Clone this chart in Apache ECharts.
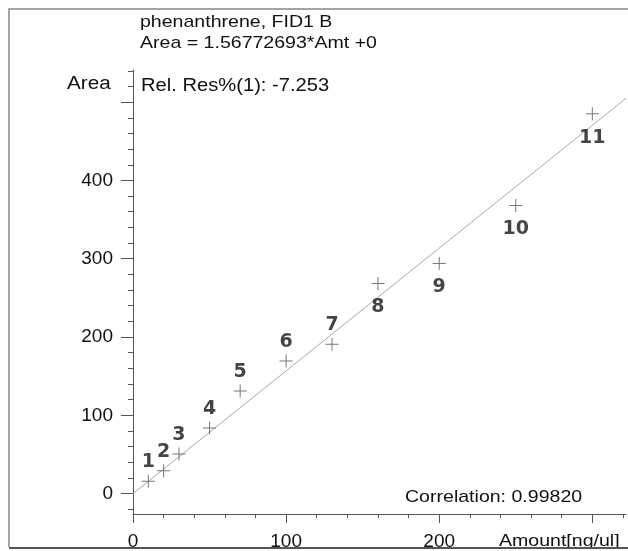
<!DOCTYPE html>
<html>
<head>
<meta charset="utf-8">
<script src="https://cdn.jsdelivr.net/npm/echarts@6/dist/echarts.min.js"></script>
<style>
  html, body { margin: 0; padding: 0; background: #fff; }
  #chart { width: 628px; height: 551px; }
</style>
</head>
<body>
<div id="chart"></div>
<script>
// calibration points: amount [ng/ul] and peak area
const amounts = [10, 20, 30, 50, 70, 100, 130, 160, 200, 250, 300]
const areas = [15.8, 29.3, 50.6, 83.7, 131, 169.4, 190.7, 268.4, 293.9, 368, 485]
const pointNames = ['1', '2', '3', '4', '5', '6', '7', '8', '9', '10', '11']
const labelBelow = [false, false, false, false, false, false, false, true, true, true, true]

const slope = 1.56772693
const xMin = 0, xMax = 322
const yMin = -26, yMax = 541

const yMajorTicks = [0, 100, 200, 300, 400, 500]
const yTickLabels = [0, 100, 200, 300, 400]
const xMajorTicks = [0, 100, 200, 300]
const xTickLabels = [0, 100, 200]

const range = (a, b, step) => {
  const out = []
  for (let v = a; v <= b; v += step) out.push(v)
  return out
}
const yMinorTicks = range(-20, 540, 20)
const xMinorTicks = range(0, 320, 20)

const axisColor = '#555'
const textColor = '#111'
const textFont = 'Liberation Sans, Arial, sans-serif'

const chart = echarts.init(document.getElementById('chart'))

const scatterData = amounts.map((x, i) => ({
  value: [x, areas[i]],
  label: labelBelow[i]
    ? { position: 'bottom', distance: 8 }
    : { position: 'top', distance: 3 }
}))

// texts of the instrument report, slightly wide like the scanned original
const note = (text, left, top, size, sx) => ({
  type: 'text', left: left, top: top, scaleX: sx, z: 50,
  style: { text: text, fontSize: size, fill: textColor, fontFamily: textFont }
})

const option = {
  animation: false,
  backgroundColor: '#fff',
  grid: { left: 133, top: 70, right: 2, bottom: 35 },
  xAxis: [
    {
      type: 'value', min: xMin, max: xMax,
      axisLine: { show: true, onZero: false, lineStyle: { color: axisColor, width: 1 } },
      axisTick: { show: true, length: 9, customValues: xMajorTicks, lineStyle: { color: axisColor } },
      axisLabel: {
        customValues: xTickLabels, margin: 18, fontSize: 19,
        color: textColor, fontFamily: textFont
      },
      splitLine: { show: false }
    },
    {
      type: 'value', min: xMin, max: xMax, position: 'bottom',
      axisLine: { show: false, onZero: false },
      axisTick: { show: true, length: 4, customValues: xMinorTicks, lineStyle: { color: axisColor } },
      axisLabel: { show: false },
      splitLine: { show: false }
    }
  ],
  yAxis: [
    {
      type: 'value', min: yMin, max: yMax,
      axisLine: { show: true, onZero: false, lineStyle: { color: axisColor, width: 1 } },
      axisTick: { show: true, length: 12, customValues: yMajorTicks, lineStyle: { color: axisColor } },
      axisLabel: {
        customValues: yTickLabels, margin: 20, fontSize: 19,
        color: textColor, fontFamily: textFont
      },
      splitLine: { show: false }
    },
    {
      type: 'value', min: yMin, max: yMax, position: 'left',
      axisLine: { show: false, onZero: false },
      axisTick: { show: true, length: 5, customValues: yMinorTicks, lineStyle: { color: axisColor } },
      axisLabel: { show: false },
      splitLine: { show: false }
    }
  ],
  series: [
    {
      // calibration fit, forced through zero
      type: 'line',
      data: [[xMin, xMin * slope], [xMax, xMax * slope]],
      symbol: 'none',
      silent: true,
      lineStyle: { color: '#aaa', width: 1 },
      z: 1
    },
    {
      type: 'scatter',
      data: scatterData,
      symbol: 'path://M6,0h1v13h-1zM0,6h13v1h-13z',
      symbolSize: 13,
      itemStyle: { color: '#555' },
      label: {
        show: true,
        formatter: p => pointNames[p.dataIndex],
        fontSize: 19,
        fontWeight: 'bold',
        color: '#151515',
        fontFamily: 'DejaVu Sans, Verdana, sans-serif'
      },
      z: 3
    }
  ],
  graphic: [
    {
      type: 'rect', silent: true, z: 0,
      shape: { x: 9, y: 9, width: 640, height: 539 },
      style: { fill: 'none', stroke: '#888', lineWidth: 1.5 }
    },
    note('phenanthrene, FID1 B', 140, 14, 17, 1.15),
    note('Area = 1.56772693*Amt +0', 140, 35, 17, 1.15),
    note('Area', 67, 75, 18, 1.15),
    note('Rel. Res%(1): -7.253', 141, 77, 18, 1.12),
    note('Correlation: 0.99820', 405, 489, 17, 1.15),
    note('Amount[ng/ul]', 499, 533, 17, 1.15),
    {
      type: 'rect', silent: true, z: 100,
      shape: { x: 0, y: 547, width: 628, height: 4 },
      style: { fill: '#fff' }
    },
    {
      type: 'line', silent: true, z: 101,
      shape: { x1: 9, y1: 548, x2: 628, y2: 548 },
      style: { stroke: '#555', lineWidth: 2 }
    }
  ]
}

chart.setOption(option)
</script>
</body>
</html>
